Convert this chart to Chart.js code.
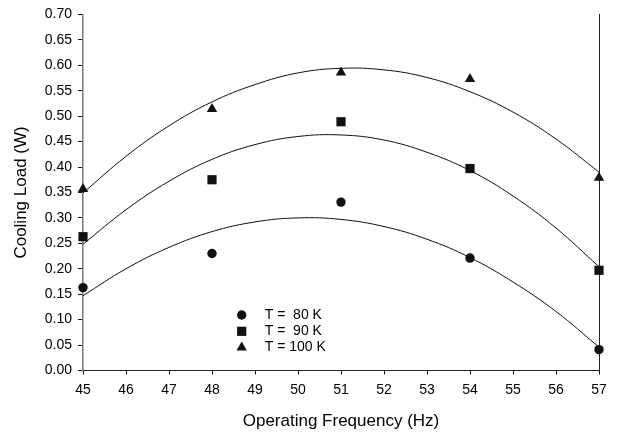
<!DOCTYPE html>
<html>
<head>
<meta charset="utf-8">
<title>Cooling Load vs Operating Frequency</title>
<script src="https://cdn.jsdelivr.net/npm/chart.js@4.4.1/dist/chart.umd.min.js"></script>
<style>
  html, body { margin: 0; padding: 0; background: #fff; }
  #wrap { width: 618px; height: 434px; }
</style>
</head>
<body>
<div id="wrap"><canvas id="myChart" width="618" height="434"></canvas></div>
<script>
'use strict';

// measured points
let freqs = [45, 48, 51, 54, 57];
let load80K = [0.163, 0.230, 0.331, 0.221, 0.041];
let load90K = [0.263, 0.375, 0.489, 0.397, 0.197];
let load100K = [0.357, 0.514, 0.586, 0.573, 0.379];

// second order trend lines, one value per hertz
let fitFreqs = [45, 46, 47, 48, 49, 50, 51, 52, 53, 54, 55, 56, 57];
let fit80K = [0.147, 0.200, 0.242, 0.273, 0.292, 0.300, 0.297, 0.283, 0.258, 0.222, 0.174, 0.116, 0.046];
let fit90K = [0.248, 0.316, 0.372, 0.415, 0.444, 0.460, 0.463, 0.453, 0.429, 0.393, 0.343, 0.280, 0.204];
let fit100K = [0.349, 0.421, 0.481, 0.528, 0.562, 0.585, 0.594, 0.591, 0.576, 0.548, 0.508, 0.455, 0.390];

let seriesLabels = ['T =  80 K', 'T =  90 K', 'T = 100 K'];
let xTicks = [45, 46, 47, 48, 49, 50, 51, 52, 53, 54, 55, 56, 57];
let yTicks = [0, 0.05, 0.10, 0.15, 0.20, 0.25, 0.30, 0.35, 0.40, 0.45, 0.50, 0.55, 0.60, 0.65, 0.70];

const FONT = '"Liberation Sans", Arial, sans-serif';
const INK = '#111';

function toXY(xs, ys) {
    return xs.map((x, i) => ({ x: x, y: ys[i] }));
}

function pointSet(label, ys, style, radius) {
    return {
        label: label,
        data: toXY(freqs, ys),
        pointStyle: style,
        pointRadius: radius,
        pointHoverRadius: radius,
        backgroundColor: INK,
        borderColor: INK,
        borderWidth: 0,
        showLine: false,
        clip: false
    };
}

function fitSet(ys) {
    return {
        label: '',
        data: toXY(fitFreqs, ys),
        showLine: true,
        pointRadius: 0,
        borderColor: INK,
        borderWidth: 1,
        tension: 0.4,
        fill: false
    };
}

// legend sits inside the plot, lower middle
const innerLegend = {
    id: 'innerLegend',
    afterDatasetsDraw(chart) {
        let ctx = chart.ctx;
        let area = chart.chartArea;
        ctx.save();
        ctx.font = '14px ' + FONT;
        ctx.textBaseline = 'middle';
        ctx.textAlign = 'left';
        for (let i = 0; i < seriesLabels.length; i++) {
            let ds = chart.data.datasets[i];
            let y = area.bottom - 55.5 + i * 16.3;
            let x = area.left + 158.7;
            ctx.fillStyle = INK;
            ctx.strokeStyle = INK;
            Chart.helpers.drawPoint(ctx, {
                pointStyle: ds.pointStyle,
                radius: ds.pointRadius,
                rotation: 0,
                borderWidth: 0
            }, x, y);
            ctx.fillStyle = '#000';
            ctx.fillText(seriesLabels[i], x + 23, y);
        }
        ctx.restore();
    }
};

let ctx = document.getElementById('myChart').getContext('2d');
let myChart = new Chart(ctx, {
    type: 'scatter',
    data: {
        datasets: [
            pointSet(seriesLabels[0], load80K, 'circle', 4.7),
            pointSet(seriesLabels[1], load90K, 'rect', 6.5),
            pointSet(seriesLabels[2], load100K, 'triangle', 6),
            fitSet(fit80K),
            fitSet(fit90K),
            fitSet(fit100K)
        ]
    },
    options: {
        responsive: false,
        animation: false,
        devicePixelRatio: 1,
        layout: { padding: { top: 13, right: 19, bottom: 0, left: 8 } },
        plugins: {
            legend: { display: false },
            tooltip: { enabled: false }
        },
        scales: {
            x: {
                type: 'linear',
                min: 45,
                max: 57,
                afterBuildTicks: (scale) => { scale.ticks = xTicks.map(v => ({ value: v })); },
                afterFit: (scale) => { scale.height = 63.5; },
                grid: { drawOnChartArea: false, tickLength: 4, color: INK },
                border: { color: '#222', width: 1 },
                ticks: {
                    color: '#000',
                    font: { family: FONT, size: 14 },
                    padding: 7,
                    maxRotation: 0
                },
                title: {
                    display: true,
                    text: 'Operating Frequency (Hz)',
                    color: '#000',
                    font: { family: FONT, size: 17 },
                    padding: { top: 0, bottom: 2 }
                }
            },
            y: {
                type: 'linear',
                min: 0,
                max: 0.7,
                afterBuildTicks: (scale) => { scale.ticks = yTicks.map(v => ({ value: v })); },
                afterFit: (scale) => { scale.width = 75; },
                grid: { drawOnChartArea: false, tickLength: 5, color: INK },
                border: { color: '#777', width: 1.5 },
                ticks: {
                    color: '#000',
                    font: { family: FONT, size: 14 },
                    padding: 6,
                    callback: (v) => Number(v).toFixed(2)
                },
                title: {
                    display: true,
                    text: 'Cooling Load (W)',
                    color: '#000',
                    font: { family: FONT, size: 17 },
                    padding: { top: 3, bottom: 0 }
                }
            },
            y2: {
                type: 'linear',
                position: 'right',
                min: 0,
                max: 0.7,
                afterFit: (scale) => { scale.width = 0; },
                grid: { display: false, drawTicks: false },
                border: { color: '#222', width: 1 },
                ticks: { display: false }
            }
        }
    },
    plugins: [innerLegend]
});
</script>
</body>
</html>
